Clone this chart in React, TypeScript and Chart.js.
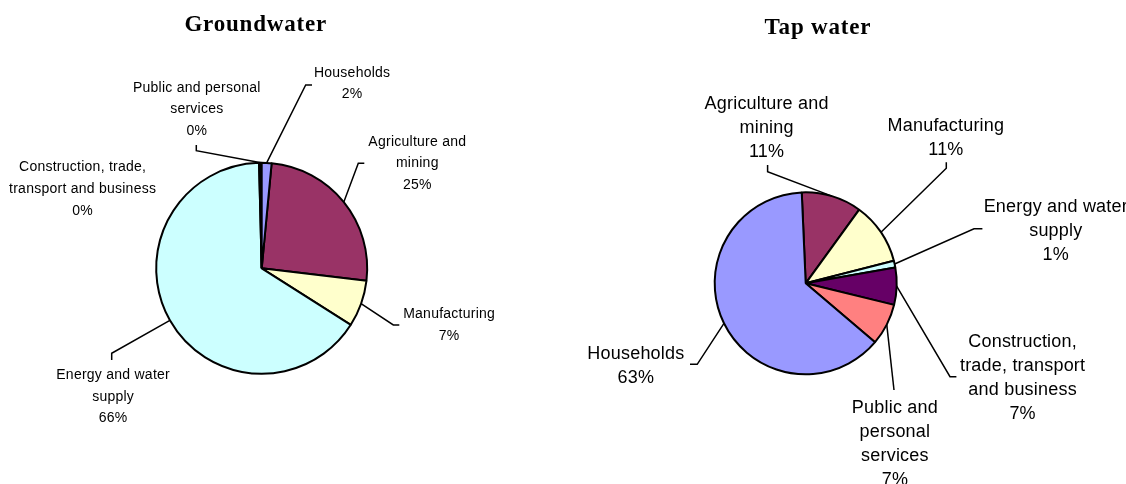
import React, { useEffect, useRef } from "react";
import { Chart, registerables } from "chart.js";

Chart.register(...registerables);

// ---------- data ----------
const categories = [
  "Agriculture and mining",
  "Manufacturing",
  "Energy and water supply",
  "Construction, trade, transport and business",
  "Public and personal services",
  "Households",
];
const groundwaterValues = [25.4, 7.1, 65.6, 0.2, 0.2, 1.5];
const tapWaterValues = [10.7, 11.0, 1.2, 6.6, 7.4, 63.1];
const sliceColors = ["#993366", "#FFFFCC", "#CCFFFF", "#660066", "#FF8080", "#9999FF"];

const groundwaterLabelLines = [
  ["Agriculture and", "mining"],
  ["Manufacturing"],
  ["Energy and water", "supply"],
  ["Construction, trade,", "transport and business"],
  ["Public and personal", "services"],
  ["Households"],
];
const tapWaterLabelLines = [
  ["Agriculture and", "mining"],
  ["Manufacturing"],
  ["Energy and water", "supply"],
  ["Construction,", "trade, transport", "and business"],
  ["Public and", "personal", "services"],
  ["Households"],
];

// ---------- layout (page coordinates) ----------
type Pt = [number, number];
type LabelLayout = { cx: number; baseline: number; leader: Pt[] | null };
type PieLayout = {
  title: string;
  canvasLeft: number;
  width: number;
  height: number;
  center: Pt;
  radius: number;
  rotation: number;
  titleX: number;
  titleY: number;
  fontSize: number;
  lineGap: number;
  letterSpacing: number;
  labels: LabelLayout[];
};

const groundwaterLayout: PieLayout = {
  title: "Groundwater",
  canvasLeft: 0,
  width: 560,
  height: 484,
  center: [261.7, 268.3],
  radius: 105.5,
  rotation: (360 * groundwaterValues[5]) / groundwaterValues.reduce((a, b) => a + b, 0),
  titleX: 255.3,
  titleY: 30.7,
  fontSize: 14,
  lineGap: 21.7,
  letterSpacing: 0.25,
  labels: [
    { cx: 417.2, baseline: 145.7, leader: [[358.3, 163.3], [364.3, 163.3]] },
    { cx: 449, baseline: 318, leader: [[393.3, 325], [399.3, 325]] },
    { cx: 113, baseline: 379, leader: [[111.7, 353.3], [111.7, 360]] },
    { cx: 82.5, baseline: 171.3, leader: null },
    { cx: 196.7, baseline: 91.7, leader: [[196.3, 150.7], [196.3, 145]] },
    { cx: 352, baseline: 76.7, leader: [[305.7, 85], [312, 85]] },
  ],
};

const tapWaterLayout: PieLayout = {
  title: "Tap water",
  canvasLeft: 560,
  width: 566,
  height: 484,
  center: [805.7, 283.3],
  radius: 91,
  rotation: -2.5,
  titleX: 817.5,
  titleY: 33.5,
  fontSize: 18,
  lineGap: 24,
  letterSpacing: 0.2,
  labels: [
    { cx: 766.5, baseline: 109.3, leader: [[767.6, 171.7], [767.6, 165]] },
    { cx: 945.8, baseline: 130.7, leader: [[946.3, 168.3], [946.3, 162.3]] },
    { cx: 1055.7, baseline: 211.7, leader: [[974, 228.7], [982.4, 228.7]] },
    { cx: 1022.5, baseline: 347.3, leader: [[950, 376.7], [956.4, 376.7]] },
    { cx: 894.8, baseline: 413.3, leader: [[894, 390]] },
    { cx: 635.8, baseline: 359.3, leader: [[697.2, 364.3], [690, 364.3]] },
  ],
};

function makeLabelPlugin(layout: PieLayout, lines: string[][], values: number[]) {
  return {
    id: "pieLabels_" + layout.canvasLeft,
    afterDatasetsDraw(chart: any) {
      const ctx: CanvasRenderingContext2D = chart.ctx;
      const meta = chart.getDatasetMeta(0);
      const total = values.reduce((a, b) => a + b, 0);
      const off = layout.canvasLeft;
      ctx.save();
      // leaders
      ctx.strokeStyle = "#000";
      ctx.lineWidth = 1.5;
      meta.data.forEach((arc: any, i: number) => {
        const lab = layout.labels[i];
        if (!lab || !lab.leader) return;
        const p = arc.getProps(["x", "y", "startAngle", "endAngle", "outerRadius"], true);
        const mid = (p.startAngle + p.endAngle) / 2;
        const ex = p.x + Math.cos(mid) * p.outerRadius;
        const ey = p.y + Math.sin(mid) * p.outerRadius;
        ctx.beginPath();
        ctx.moveTo(ex, ey);
        lab.leader.forEach(([lx, ly]) => ctx.lineTo(lx - off, ly));
        ctx.stroke();
      });
      // text
      ctx.fillStyle = "#000";
      ctx.textAlign = "center";
      ctx.textBaseline = "alphabetic";
      ctx.font = `${layout.fontSize}px "Liberation Sans", Arial, sans-serif`;
      (ctx as any).letterSpacing = `${layout.letterSpacing}px`;
      meta.data.forEach((_arc: any, i: number) => {
        const lab = layout.labels[i];
        const pct = Math.round((values[i] / total) * 100) + "%";
        const all = [...lines[i], pct];
        all.forEach((t, k) => {
          ctx.fillText(t, lab.cx - off + layout.letterSpacing / 2, lab.baseline + k * layout.lineGap);
        });
      });
      // title
      ctx.font = `bold 23px "Liberation Serif", "Times New Roman", serif`;
      (ctx as any).letterSpacing = "0.8px";
      ctx.fillText(layout.title, layout.titleX - off + 0.4, layout.titleY);
      ctx.restore();
    },
  };
}

function PieCanvas({ layout, values, lines }: { layout: PieLayout; values: number[]; lines: string[][] }) {
  const ref = useRef<HTMLCanvasElement | null>(null);
  useEffect(() => {
    if (!ref.current) return;
    const cxLocal = layout.center[0] - layout.canvasLeft;
    const cyLocal = layout.center[1];
    const padRight = layout.width - 2 * cxLocal;
    const padTop = 2 * cyLocal - layout.height;
    const chart = new Chart(ref.current, {
      type: "pie",
      data: {
        labels: categories,
        datasets: [
          {
            data: values,
            backgroundColor: sliceColors,
            borderColor: "#000",
            borderWidth: 2,
            hoverBorderWidth: 2,
            hoverOffset: 0,
          },
        ],
      },
      options: {
        responsive: false,
        animation: false,
        devicePixelRatio: 1,
        radius: layout.radius,
        rotation: layout.rotation,
        layout: { padding: { left: 0, right: padRight, top: padTop, bottom: 0 } },
        plugins: {
          legend: { display: false },
          tooltip: { enabled: false },
          title: { display: false },
        },
        events: [],
      } as any,
      plugins: [makeLabelPlugin(layout, lines, values)],
    });
    return () => chart.destroy();
  }, [layout, values, lines]);
  return (
    <canvas
      ref={ref}
      width={layout.width}
      height={layout.height}
      style={{ position: "absolute", left: layout.canvasLeft, top: 0, width: layout.width, height: layout.height }}
    />
  );
}

export default function App() {
  return (
    <div style={{ position: "absolute", left: 0, top: 0, width: 1126, height: 484, background: "#fff", overflow: "hidden" }}>
      <PieCanvas layout={groundwaterLayout} values={groundwaterValues} lines={groundwaterLabelLines} />
      <PieCanvas layout={tapWaterLayout} values={tapWaterValues} lines={tapWaterLabelLines} />
    </div>
  );
}
